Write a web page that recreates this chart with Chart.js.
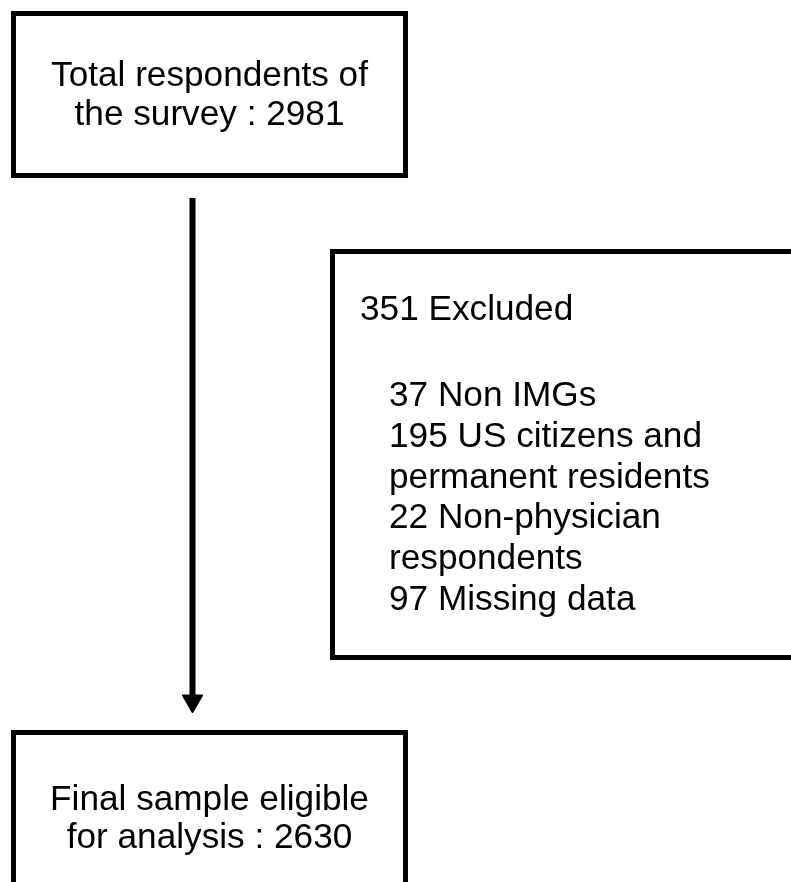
<!DOCTYPE html>
<html>
<head>
<meta charset="utf-8">
<script src="https://cdn.jsdelivr.net/npm/chart.js@4/dist/chart.umd.min.js"></script>
<style>
  html, body { margin: 0; padding: 0; background: #fff; }
  canvas { display: block; }
</style>
</head>
<body>
<canvas id="flow" width="791" height="882"></canvas>
<script>
// Flow chart data
const totalRespondents = 2981;
const excludedTotal = 351;
const excludedCounts = [37, 195, 22, 97];
const excludedReasons = [
    ['Non IMGs'],
    ['US citizens and', 'permanent residents'],
    ['Non-physician', 'respondents'],
    ['Missing data']
];
const finalSample = 2630;

// Layout (canvas pixel units on hidden linear scales)
const W = 791, H = 882;
const FONT = '35.2px "Liberation Sans", Arial, sans-serif';
const boxes = [
    { l: 13.5, t: 13.5, r: 405.5, b: 175.5 },
    { l: 332.5, t: 251.5, r: 900, b: 657.5 },
    { l: 13.5, t: 732.5, r: 405.5, b: 1000 }
];

function boxPoints(bx) {
    return [
        { x: bx.l, y: bx.t }, { x: bx.r, y: bx.t },
        { x: bx.r, y: bx.b }, { x: bx.l, y: bx.b },
        { x: bx.l, y: bx.t }
    ];
}

const boxDatasets = boxes.map(bx => ({
    data: boxPoints(bx),
    showLine: true,
    borderColor: '#000',
    borderWidth: 5,
    borderJoinStyle: 'miter',
    borderCapStyle: 'square',
    pointRadius: 0,
    tension: 0
}));

// arrow shaft + head
const arrowShaft = {
    data: [{ x: 192.5, y: 198 }, { x: 192.5, y: 697 }],
    showLine: true,
    borderColor: '#000',
    borderWidth: 6,
    borderCapStyle: 'butt',
    pointRadius: 0
};
const arrowHead = {
    data: [{ x: 192.5, y: 701 }],
    showLine: false,
    pointStyle: 'triangle',
    rotation: 180,
    pointRadius: 12,
    backgroundColor: '#000',
    borderColor: '#000',
    borderWidth: 1
};

// text lines of the exclusion box
const excludedLines = [];
excludedCounts.forEach((n, i) => {
    excludedReasons[i].forEach((txt, j) => {
        excludedLines.push(j === 0 ? n + ' ' + txt : txt);
    });
});

const textPlugin = {
    id: 'flowText',
    afterDatasetsDraw(chart) {
        const ctx = chart.ctx;
        const xs = chart.scales.x, ys = chart.scales.y;
        const put = (txt, x, y, align) => {
            ctx.textAlign = align;
            ctx.fillText(txt, xs.getPixelForValue(x), ys.getPixelForValue(y));
        };
        ctx.save();
        ctx.font = FONT;
        ctx.fillStyle = '#000';
        ctx.textBaseline = 'alphabetic';

        put('Total respondents of', 209.5, 86, 'center');
        put('the survey : ' + totalRespondents, 209.5, 125, 'center');

        put(excludedTotal + ' Excluded', 360, 320, 'left');
        excludedLines.forEach((line, i) => {
            put(line, 389, 406 + i * 40.8, 'left');
        });

        put('Final sample eligible', 209.5, 810, 'center');
        put('for analysis : ' + finalSample, 209.5, 848, 'center');
        ctx.restore();
    }
};

new Chart(document.getElementById('flow'), {
    type: 'scatter',
    data: { datasets: [...boxDatasets, arrowShaft, arrowHead] },
    options: {
        responsive: false,
        animation: false,
        devicePixelRatio: 1,
        layout: { padding: 0, autoPadding: false },
        plugins: { legend: { display: false }, tooltip: { enabled: false } },
        events: [],
        scales: {
            x: { type: 'linear', min: 0, max: W, display: false },
            y: { type: 'linear', min: 0, max: H, reverse: true, display: false }
        }
    },
    plugins: [textPlugin]
});
</script>
</body>
</html>
